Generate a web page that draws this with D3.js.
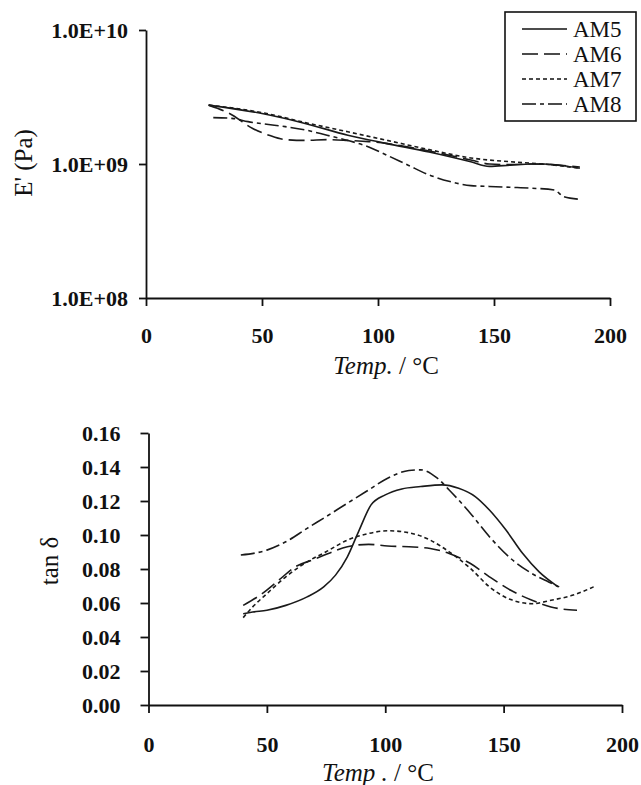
<!DOCTYPE html>
<html><head><meta charset="utf-8">
<script src="https://cdn.jsdelivr.net/npm/d3@7"></script>
<style>
body{margin:0;background:#fff;}
svg text{font-family:"Liberation Serif","DejaVu Serif",serif;fill:#111;}
</style></head>
<body>
<svg id="c" width="641" height="785"></svg>
<script>
// ---------- data ----------
const seriesNames = ["AM5","AM6","AM7","AM8"];
// Storage modulus E' (Pa) vs temperature (°C)
const am5E_T = [27,50,69,87,104,122,140,148,157,166,171,187];
const am5E_V = [2.75e9,2.38e9,2.0e9,1.64e9,1.42e9,1.23e9,1.04e9,0.96e9,0.98e9,1.0e9,1.0e9,0.93e9];
const am6E_T = [27,36,46,53,60,69,78,87,96,104,122,140,148,157,166,187];
const am6E_V = [2.75e9,2.38e9,1.84e9,1.64e9,1.52e9,1.5e9,1.52e9,1.5e9,1.47e9,1.42e9,1.25e9,1.07e9,1.0e9,0.99e9,1.0e9,0.95e9];
const am7E_T = [27,51,69,87,104,122,140,157,171,187];
const am7E_V = [2.75e9,2.4e9,2.03e9,1.74e9,1.5e9,1.28e9,1.11e9,1.04e9,1.0e9,0.93e9];
const am8E_T = [29,37,44,52,60,69,78,87,96,104,113,122,131,140,148,157,166,176,180,187];
const am8E_V = [2.22e9,2.19e9,2.07e9,1.98e9,1.9e9,1.79e9,1.64e9,1.5e9,1.34e9,1.16e9,0.98e9,0.83e9,0.74e9,0.69e9,0.68e9,0.67e9,0.66e9,0.64e9,0.57e9,0.545e9];
// tan delta vs temperature (°C)
const am5D_T = [40,44,50,58,67,74,79,84,89,94,100,107,115,124,131,138,144,151,158,165,173];
const am5D_V = [0.0537,0.0547,0.0557,0.0586,0.0636,0.0695,0.0764,0.0872,0.1029,0.1177,0.1236,0.1271,0.1285,0.1295,0.1275,0.1226,0.1147,0.1029,0.0892,0.0783,0.0695];
const am6D_T = [40,48,55,62,69,76,84,93,101,110,119,127,136,144,153,162,170,181];
const am6D_V = [0.0586,0.0655,0.0734,0.0813,0.0852,0.0891,0.0931,0.0945,0.0935,0.0931,0.0921,0.0891,0.0832,0.0754,0.0675,0.0616,0.0577,0.0557];
const am7D_T = [40,44,50,58,67,75,84,93,101,110,119,127,136,144,153,162,170,179,188];
const am7D_V = [0.0514,0.0577,0.0655,0.0754,0.0842,0.0901,0.097,0.1009,0.1025,0.1013,0.097,0.0901,0.0803,0.0695,0.062,0.0596,0.0616,0.0645,0.0695];
const am8D_T = [39,50,58,67,75,84,93,101,110,115,122,127,136,144,153,162,169,175];
const am8D_V = [0.0882,0.0911,0.096,0.1039,0.1108,0.1187,0.1265,0.1334,0.1379,0.1383,0.1334,0.1265,0.1127,0.099,0.0862,0.0773,0.0724,0.0685];

const xTicks = [0,50,100,150,200];
const eTicks = [1e8,1e9,1e10];
const eTickLabels = ["1.0E+08","1.0E+09","1.0E+10"];
const dTicks = [0,0.02,0.04,0.06,0.08,0.10,0.12,0.14,0.16];

const dashes = {AM5:null, AM6:"16,6", AM7:"4,3", AM8:"14,4,4,4"};

const svg = d3.select("#c");
const zip = (t,v)=>t.map((d,i)=>[d,v[i]]);
const styleAxis = a=>{
  a.select(".domain").attr("stroke","#111").attr("stroke-width",1.8);
  a.selectAll(".tick line").attr("stroke","#111").attr("stroke-width",1.8);
  a.selectAll(".tick text").attr("font-size",22).attr("font-weight","bold")
    .attr("font-family","Liberation Serif").attr("fill","#111");
};

// ---------- top chart ----------
const x1 = d3.scaleLinear().domain([0,200]).range([146,610]);
const y1 = d3.scaleLog().domain([1e8,1e10]).range([298,30]);
const g1 = svg.append("g");
const topSeries = {AM5:zip(am5E_T,am5E_V),AM6:zip(am6E_T,am6E_V),AM7:zip(am7E_T,am7E_V),AM8:zip(am8E_T,am8E_V)};
const line1 = d3.line().x(d=>x1(d[0])).y(d=>y1(d[1])).curve(d3.curveMonotoneX);
seriesNames.forEach(n=>{
  g1.append("path").attr("d",line1(topSeries[n])).attr("fill","none")
    .attr("stroke","#1a1a1a").attr("stroke-width",1.6)
    .attr("stroke-dasharray",dashes[n]);
});
const ax1 = g1.append("g").attr("transform","translate(0,298)")
  .call(d3.axisBottom(x1).tickValues(xTicks).tickSize(8).tickSizeOuter(0).tickPadding(21));
const ay1 = g1.append("g").attr("transform","translate(146,0)")
  .call(d3.axisLeft(y1).tickValues(eTicks).tickFormat((d,i)=>eTickLabels[i]).tickSize(7).tickSizeOuter(0).tickPadding(11));
styleAxis(ax1); styleAxis(ay1);
const t1 = g1.append("text").attr("x",386).attr("y",374).attr("text-anchor","middle").attr("font-size",25);
t1.append("tspan").attr("font-style","italic").text("Temp.");
t1.append("tspan").text(" / °C");
g1.append("text").attr("transform","translate(32,163) rotate(-90)").attr("text-anchor","middle")
  .attr("font-size",25).text("E' (Pa)");

// legend
const lg = g1.append("g");
lg.append("rect").attr("x",505).attr("y",12).attr("width",131).attr("height",109)
  .attr("fill","#fff").attr("stroke","#111").attr("stroke-width",1.6);
const legY = d3.scalePoint().domain(seriesNames).range([29,104]);
seriesNames.forEach(n=>{
  lg.append("line").attr("x1",522).attr("x2",567).attr("y1",legY(n)).attr("y2",legY(n))
    .attr("stroke","#111").attr("stroke-width",1.6).attr("stroke-dasharray",dashes[n]);
  lg.append("text").attr("x",573).attr("y",legY(n)).attr("dy","0.35em").attr("font-size",23).text(n);
});

// ---------- bottom chart ----------
const x2 = d3.scaleLinear().domain([0,200]).range([148.5,622]);
const y2 = d3.scaleLinear().domain([0,0.16]).range([705,433]);
const g2 = svg.append("g");
const botSeries = {AM5:zip(am5D_T,am5D_V),AM6:zip(am6D_T,am6D_V),AM7:zip(am7D_T,am7D_V),AM8:zip(am8D_T,am8D_V)};
const line2 = d3.line().x(d=>x2(d[0])).y(d=>y2(d[1])).curve(d3.curveMonotoneX);
seriesNames.forEach(n=>{
  g2.append("path").attr("d",line2(botSeries[n])).attr("fill","none")
    .attr("stroke","#1a1a1a").attr("stroke-width",1.6)
    .attr("stroke-dasharray",dashes[n]);
});
const ax2 = g2.append("g").attr("transform","translate(0,705)")
  .call(d3.axisBottom(x2).tickValues(xTicks).tickSize(8).tickSizeOuter(0).tickPadding(23));
const ay2 = g2.append("g").attr("transform","translate(148.5,0)")
  .call(d3.axisLeft(y2).tickValues(dTicks).tickFormat(d3.format(".2f")).tickSize(8).tickSizeOuter(0).tickPadding(20));
styleAxis(ax2); styleAxis(ay2);
const t2 = g2.append("text").attr("x",378).attr("y",781).attr("text-anchor","middle").attr("font-size",25);
t2.append("tspan").attr("font-style","italic").text("Temp .");
t2.append("tspan").text(" / °C");
g2.append("text").attr("transform","translate(58,561) rotate(-90)").attr("text-anchor","middle")
  .attr("font-size",25).text("tan δ");
</script>
</body></html>
